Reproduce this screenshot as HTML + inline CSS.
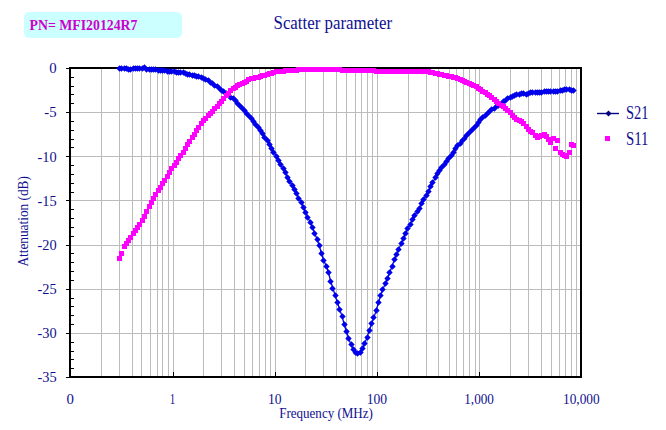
<!DOCTYPE html>
<html><head><meta charset="utf-8"><title>Scatter parameter</title>
<style>
html,body{margin:0;padding:0;background:#fff;}
body{width:666px;height:430px;overflow:hidden;}
svg{display:block;font-family:"Liberation Serif",serif;}
</style></head><body>
<svg width="666" height="430" viewBox="0 0 666 430">
<rect width="666" height="430" fill="#ffffff"/>
<g shape-rendering="crispEdges">
<path d="M101.5 69 V376 M119.5 69 V376 M132.5 69 V376 M141.5 69 V376 M150.5 69 V376 M157.5 69 V376 M162.5 69 V376 M168.5 69 V376 M173.5 69 V376 M203.5 69 V376 M221.5 69 V376 M234.5 69 V376 M244.5 69 V376 M252.5 69 V376 M259.5 69 V376 M265.5 69 V376 M270.5 69 V376 M275.5 69 V376 M305.5 69 V376 M323.5 69 V376 M336.5 69 V376 M346.5 69 V376 M355.5 69 V376 M361.5 69 V376 M367.5 69 V376 M372.5 69 V376 M377.5 69 V376 M408.5 69 V376 M426.5 69 V376 M438.5 69 V376 M449.5 69 V376 M456.5 69 V376 M463.5 69 V376 M469.5 69 V376 M475.5 69 V376 M479.5 69 V376 M510.5 69 V376 M528.5 69 V376 M541.5 69 V376 M551.5 69 V376 M559.5 69 V376 M565.5 69 V376 M571.5 69 V376 M576.5 69 V376 M71 112.5 H580 M71 156.5 H580 M71 200.5 H580 M71 245.5 H580 M71 289.5 H580 M71 333.5 H580" stroke="#bcbcbc" stroke-width="1" fill="none"/>
<path d="M66 68.5 H70 M70 77.5 H74 M70 86.5 H74 M70 94.5 H74 M70 103.5 H74 M66 112.5 H70 M70 121.5 H74 M70 130.5 H74 M70 139.5 H74 M70 147.5 H74 M66 156.5 H70 M70 165.5 H74 M70 174.5 H74 M70 183.5 H74 M70 192.5 H74 M66 200.5 H70 M70 209.5 H74 M70 218.5 H74 M70 227.5 H74 M70 236.5 H74 M66 245.5 H70 M70 253.5 H74 M70 262.5 H74 M70 271.5 H74 M70 280.5 H74 M66 289.5 H70 M70 298.5 H74 M70 306.5 H74 M70 315.5 H74 M70 324.5 H74 M66 333.5 H70 M70 342.5 H74 M70 351.5 H74 M70 359.5 H74 M70 368.5 H74 M66 377.5 H70 M173.5 372 V377 M275.5 372 V377 M377.5 372 V377 M479.5 372 V377" stroke="#000" stroke-width="1" fill="none"/>
<rect x="70" y="68" width="511" height="309" fill="none" stroke="#000" stroke-width="2"/>
<path d="M119.5 68.7 L121.8 68.9 L124 68.6 L126.3 68.8 L128.6 69.1 L130.9 69.1 L133.1 68.5 L135.4 68.6 L137.7 68.5 L139.9 68.9 L142.2 68.6 L144.5 67.3 L146.8 69.4 L149 69.3 L151.3 69.8 L153.6 70 L155.8 69.7 L158.1 70.3 L160.4 70.2 L162.6 70.5 L164.9 70.6 L167.2 71.1 L169.5 71.1 L171.7 71.1 L174 71.6 L176.3 72.1 L178.5 72 L180.8 72.3 L183.1 72.8 L185.4 73.6 L187.6 74.1 L189.9 74.4 L192.2 75.1 L194.4 75.7 L196.7 76 L199 76.6 L201.3 77.8 L203.5 78.7 L205.8 79.7 L208.1 80.9 L210.3 82.2 L212.6 83.6 L214.9 85.1 L217.2 86.8 L219.4 88.4 L221.7 90.1 L224 91.8 L226.2 93.6 L228.5 95.4 L230.8 97.1 L233.1 98.9 L235.3 100.9 L237.6 103.2 L239.9 105.6 L242.1 108.1 L244.4 110.6 L246.7 113.1 L248.9 115.6 L251.2 118.2 L253.5 121 L255.8 124 L258 127.2 L260.3 130.4 L262.6 133.7 L264.8 137.1 L267.1 140.6 L269.4 144.2 L271.7 148 L273.9 152.2 L276.2 156.4 L278.5 160.5 L280.7 164.6 L283 168.7 L285.3 172.9 L287.6 177 L289.8 181.2 L292.1 185.3 L294.4 189.4 L296.6 193.7 L298.9 198 L301.2 202.6 L303.5 207.4 L305.7 212.3 L308 217.4 L310.3 222.7 L312.5 227.6 L314.8 233.3 L317.1 239.4 L319.3 245.7 L321.6 253.7 L323.9 260.8 L326.2 266.1 L328.4 272 L330.7 281.5 L333 288.3 L335.2 295.9 L337.5 302.8 L339.8 309.8 L342.1 316.4 L344.3 324.7 L346.6 332 L348.9 338.9 L351.1 345 L353.4 349.7 L355.7 352.6 L358 353.6 L360.2 352.5 L362.5 348.6 L364.8 343.4 L367 337.6 L369.3 330.3 L371.6 323.8 L373.9 317.4 L376.1 310.9 L378.4 302.6 L380.7 295.3 L382.9 289.3 L385.2 283.7 L387.5 278.3 L389.7 272.7 L392 266.3 L394.3 259.9 L396.6 254.4 L398.8 249.1 L401.1 244 L403.4 238.5 L405.6 233.3 L407.9 228.1 L410.2 224.1 L412.5 219.2 L414.7 215.3 L417 211.9 L419.3 208.3 L421.5 203.6 L423.8 199.1 L426.1 195.2 L428.4 191.1 L430.6 186.7 L432.9 182.3 L435.2 177.9 L437.4 174 L439.7 170.5 L442 167.4 L444.3 164.5 L446.5 161.7 L448.8 158.9 L451.1 155.8 L453.3 152.3 L455.6 148.8 L457.9 146 L460.1 143.4 L462.4 141 L464.7 138.3 L467 135.5 L469.2 132.7 L471.5 130.4 L473.8 128.2 L476 125.7 L478.3 122.7 L480.6 120 L482.9 117.6 L485.1 115.4 L487.4 113.3 L489.7 111.5 L491.9 109.8 L494.2 108.3 L496.5 106.8 L498.8 105.2 L501 103.6 L503.3 101.8 L505.6 100.4 L507.8 99 L510.1 97.6 L512.4 96.3 L514.7 95.6 L516.9 95 L519.2 94.3 L521.5 93.9 L523.7 93.8 L526 94.1 L528.3 93.5 L530.6 92.9 L532.8 92.8 L535.1 92.8 L537.4 92.3 L539.6 92.2 L541.9 92.4 L544.2 91.7 L546.4 91.9 L548.7 91.6 L551 91.8 L553.3 91.6 L555.5 91.3 L557.8 91 L560.1 90.3 L562.3 90 L564.6 89.1 L566.9 89.4 L569.2 89.4 L571.4 90.1 L573.7 90.5" stroke="#0000ea" stroke-width="1.3" fill="none" shape-rendering="auto"/>
<path d="M119.5 65.3l3.2 3.2l-3.2 3.2l-3.2 -3.2zM121.5 65.3l3.2 3.2l-3.2 3.2l-3.2 -3.2zM124.5 65.3l3.2 3.2l-3.2 3.2l-3.2 -3.2zM126.5 65.3l3.2 3.2l-3.2 3.2l-3.2 -3.2zM128.5 66.3l3.2 3.2l-3.2 3.2l-3.2 -3.2zM130.5 66.3l3.2 3.2l-3.2 3.2l-3.2 -3.2zM133.5 65.3l3.2 3.2l-3.2 3.2l-3.2 -3.2zM135.5 65.3l3.2 3.2l-3.2 3.2l-3.2 -3.2zM137.5 65.3l3.2 3.2l-3.2 3.2l-3.2 -3.2zM139.5 65.3l3.2 3.2l-3.2 3.2l-3.2 -3.2zM142.5 65.3l3.2 3.2l-3.2 3.2l-3.2 -3.2zM144.5 64.3l3.2 3.2l-3.2 3.2l-3.2 -3.2zM146.5 66.3l3.2 3.2l-3.2 3.2l-3.2 -3.2zM149.5 66.3l3.2 3.2l-3.2 3.2l-3.2 -3.2zM151.5 66.3l3.2 3.2l-3.2 3.2l-3.2 -3.2zM153.5 66.3l3.2 3.2l-3.2 3.2l-3.2 -3.2zM155.5 66.3l3.2 3.2l-3.2 3.2l-3.2 -3.2zM158.5 67.3l3.2 3.2l-3.2 3.2l-3.2 -3.2zM160.5 67.3l3.2 3.2l-3.2 3.2l-3.2 -3.2zM162.5 67.3l3.2 3.2l-3.2 3.2l-3.2 -3.2zM164.5 67.3l3.2 3.2l-3.2 3.2l-3.2 -3.2zM167.5 68.3l3.2 3.2l-3.2 3.2l-3.2 -3.2zM169.5 68.3l3.2 3.2l-3.2 3.2l-3.2 -3.2zM171.5 68.3l3.2 3.2l-3.2 3.2l-3.2 -3.2zM174.5 68.3l3.2 3.2l-3.2 3.2l-3.2 -3.2zM176.5 69.3l3.2 3.2l-3.2 3.2l-3.2 -3.2zM178.5 69.3l3.2 3.2l-3.2 3.2l-3.2 -3.2zM180.5 69.3l3.2 3.2l-3.2 3.2l-3.2 -3.2zM183.5 69.3l3.2 3.2l-3.2 3.2l-3.2 -3.2zM185.5 70.3l3.2 3.2l-3.2 3.2l-3.2 -3.2zM187.5 71.3l3.2 3.2l-3.2 3.2l-3.2 -3.2zM189.5 71.3l3.2 3.2l-3.2 3.2l-3.2 -3.2zM192.5 72.3l3.2 3.2l-3.2 3.2l-3.2 -3.2zM194.5 72.3l3.2 3.2l-3.2 3.2l-3.2 -3.2zM196.5 73.3l3.2 3.2l-3.2 3.2l-3.2 -3.2zM198.5 73.3l3.2 3.2l-3.2 3.2l-3.2 -3.2zM201.5 74.3l3.2 3.2l-3.2 3.2l-3.2 -3.2zM203.5 75.3l3.2 3.2l-3.2 3.2l-3.2 -3.2zM205.5 76.3l3.2 3.2l-3.2 3.2l-3.2 -3.2zM208.5 77.3l3.2 3.2l-3.2 3.2l-3.2 -3.2zM210.5 79.3l3.2 3.2l-3.2 3.2l-3.2 -3.2zM212.5 80.3l3.2 3.2l-3.2 3.2l-3.2 -3.2zM214.5 82.3l3.2 3.2l-3.2 3.2l-3.2 -3.2zM217.5 83.3l3.2 3.2l-3.2 3.2l-3.2 -3.2zM219.5 85.3l3.2 3.2l-3.2 3.2l-3.2 -3.2zM221.5 87.3l3.2 3.2l-3.2 3.2l-3.2 -3.2zM223.5 88.3l3.2 3.2l-3.2 3.2l-3.2 -3.2zM226.5 90.3l3.2 3.2l-3.2 3.2l-3.2 -3.2zM228.5 92.3l3.2 3.2l-3.2 3.2l-3.2 -3.2zM230.5 94.3l3.2 3.2l-3.2 3.2l-3.2 -3.2zM233.5 95.3l3.2 3.2l-3.2 3.2l-3.2 -3.2zM235.5 97.3l3.2 3.2l-3.2 3.2l-3.2 -3.2zM237.5 100.3l3.2 3.2l-3.2 3.2l-3.2 -3.2zM239.5 102.3l3.2 3.2l-3.2 3.2l-3.2 -3.2zM242.5 105.3l3.2 3.2l-3.2 3.2l-3.2 -3.2zM244.5 107.3l3.2 3.2l-3.2 3.2l-3.2 -3.2zM246.5 110.3l3.2 3.2l-3.2 3.2l-3.2 -3.2zM248.5 112.3l3.2 3.2l-3.2 3.2l-3.2 -3.2zM251.5 115.3l3.2 3.2l-3.2 3.2l-3.2 -3.2zM253.5 118.3l3.2 3.2l-3.2 3.2l-3.2 -3.2zM255.5 121.3l3.2 3.2l-3.2 3.2l-3.2 -3.2zM258.5 124.3l3.2 3.2l-3.2 3.2l-3.2 -3.2zM260.5 127.3l3.2 3.2l-3.2 3.2l-3.2 -3.2zM262.5 130.3l3.2 3.2l-3.2 3.2l-3.2 -3.2zM264.5 134.3l3.2 3.2l-3.2 3.2l-3.2 -3.2zM267.5 137.3l3.2 3.2l-3.2 3.2l-3.2 -3.2zM269.5 141.3l3.2 3.2l-3.2 3.2l-3.2 -3.2zM271.5 145.3l3.2 3.2l-3.2 3.2l-3.2 -3.2zM273.5 149.3l3.2 3.2l-3.2 3.2l-3.2 -3.2zM276.5 153.3l3.2 3.2l-3.2 3.2l-3.2 -3.2zM278.5 157.3l3.2 3.2l-3.2 3.2l-3.2 -3.2zM280.5 161.3l3.2 3.2l-3.2 3.2l-3.2 -3.2zM283.5 165.3l3.2 3.2l-3.2 3.2l-3.2 -3.2zM285.5 169.3l3.2 3.2l-3.2 3.2l-3.2 -3.2zM287.5 174.3l3.2 3.2l-3.2 3.2l-3.2 -3.2zM289.5 178.3l3.2 3.2l-3.2 3.2l-3.2 -3.2zM292.5 182.3l3.2 3.2l-3.2 3.2l-3.2 -3.2zM294.5 186.3l3.2 3.2l-3.2 3.2l-3.2 -3.2zM296.5 190.3l3.2 3.2l-3.2 3.2l-3.2 -3.2zM298.5 195.3l3.2 3.2l-3.2 3.2l-3.2 -3.2zM301.5 199.3l3.2 3.2l-3.2 3.2l-3.2 -3.2zM303.5 204.3l3.2 3.2l-3.2 3.2l-3.2 -3.2zM305.5 209.3l3.2 3.2l-3.2 3.2l-3.2 -3.2zM307.5 214.3l3.2 3.2l-3.2 3.2l-3.2 -3.2zM310.5 219.3l3.2 3.2l-3.2 3.2l-3.2 -3.2zM312.5 224.3l3.2 3.2l-3.2 3.2l-3.2 -3.2zM314.5 230.3l3.2 3.2l-3.2 3.2l-3.2 -3.2zM317.5 236.3l3.2 3.2l-3.2 3.2l-3.2 -3.2zM319.5 242.3l3.2 3.2l-3.2 3.2l-3.2 -3.2zM321.5 250.3l3.2 3.2l-3.2 3.2l-3.2 -3.2zM323.5 257.3l3.2 3.2l-3.2 3.2l-3.2 -3.2zM326.5 263.3l3.2 3.2l-3.2 3.2l-3.2 -3.2zM328.5 269.3l3.2 3.2l-3.2 3.2l-3.2 -3.2zM330.5 278.3l3.2 3.2l-3.2 3.2l-3.2 -3.2zM332.5 285.3l3.2 3.2l-3.2 3.2l-3.2 -3.2zM335.5 292.3l3.2 3.2l-3.2 3.2l-3.2 -3.2zM337.5 299.3l3.2 3.2l-3.2 3.2l-3.2 -3.2zM339.5 306.3l3.2 3.2l-3.2 3.2l-3.2 -3.2zM342.5 313.3l3.2 3.2l-3.2 3.2l-3.2 -3.2zM344.5 321.3l3.2 3.2l-3.2 3.2l-3.2 -3.2zM346.5 328.3l3.2 3.2l-3.2 3.2l-3.2 -3.2zM348.5 335.3l3.2 3.2l-3.2 3.2l-3.2 -3.2zM351.5 341.3l3.2 3.2l-3.2 3.2l-3.2 -3.2zM353.5 346.3l3.2 3.2l-3.2 3.2l-3.2 -3.2zM355.5 349.3l3.2 3.2l-3.2 3.2l-3.2 -3.2zM357.5 350.3l3.2 3.2l-3.2 3.2l-3.2 -3.2zM360.5 349.3l3.2 3.2l-3.2 3.2l-3.2 -3.2zM362.5 345.3l3.2 3.2l-3.2 3.2l-3.2 -3.2zM364.5 340.3l3.2 3.2l-3.2 3.2l-3.2 -3.2zM367.5 334.3l3.2 3.2l-3.2 3.2l-3.2 -3.2zM369.5 327.3l3.2 3.2l-3.2 3.2l-3.2 -3.2zM371.5 320.3l3.2 3.2l-3.2 3.2l-3.2 -3.2zM373.5 314.3l3.2 3.2l-3.2 3.2l-3.2 -3.2zM376.5 307.3l3.2 3.2l-3.2 3.2l-3.2 -3.2zM378.5 299.3l3.2 3.2l-3.2 3.2l-3.2 -3.2zM380.5 292.3l3.2 3.2l-3.2 3.2l-3.2 -3.2zM382.5 286.3l3.2 3.2l-3.2 3.2l-3.2 -3.2zM385.5 280.3l3.2 3.2l-3.2 3.2l-3.2 -3.2zM387.5 275.3l3.2 3.2l-3.2 3.2l-3.2 -3.2zM389.5 269.3l3.2 3.2l-3.2 3.2l-3.2 -3.2zM392.5 263.3l3.2 3.2l-3.2 3.2l-3.2 -3.2zM394.5 256.3l3.2 3.2l-3.2 3.2l-3.2 -3.2zM396.5 251.3l3.2 3.2l-3.2 3.2l-3.2 -3.2zM398.5 246.3l3.2 3.2l-3.2 3.2l-3.2 -3.2zM401.5 240.3l3.2 3.2l-3.2 3.2l-3.2 -3.2zM403.5 235.3l3.2 3.2l-3.2 3.2l-3.2 -3.2zM405.5 230.3l3.2 3.2l-3.2 3.2l-3.2 -3.2zM407.5 225.3l3.2 3.2l-3.2 3.2l-3.2 -3.2zM410.5 221.3l3.2 3.2l-3.2 3.2l-3.2 -3.2zM412.5 216.3l3.2 3.2l-3.2 3.2l-3.2 -3.2zM414.5 212.3l3.2 3.2l-3.2 3.2l-3.2 -3.2zM417.5 208.3l3.2 3.2l-3.2 3.2l-3.2 -3.2zM419.5 205.3l3.2 3.2l-3.2 3.2l-3.2 -3.2zM421.5 200.3l3.2 3.2l-3.2 3.2l-3.2 -3.2zM423.5 196.3l3.2 3.2l-3.2 3.2l-3.2 -3.2zM426.5 192.3l3.2 3.2l-3.2 3.2l-3.2 -3.2zM428.5 188.3l3.2 3.2l-3.2 3.2l-3.2 -3.2zM430.5 183.3l3.2 3.2l-3.2 3.2l-3.2 -3.2zM432.5 179.3l3.2 3.2l-3.2 3.2l-3.2 -3.2zM435.5 174.3l3.2 3.2l-3.2 3.2l-3.2 -3.2zM437.5 170.3l3.2 3.2l-3.2 3.2l-3.2 -3.2zM439.5 167.3l3.2 3.2l-3.2 3.2l-3.2 -3.2zM441.5 164.3l3.2 3.2l-3.2 3.2l-3.2 -3.2zM444.5 161.3l3.2 3.2l-3.2 3.2l-3.2 -3.2zM446.5 158.3l3.2 3.2l-3.2 3.2l-3.2 -3.2zM448.5 155.3l3.2 3.2l-3.2 3.2l-3.2 -3.2zM451.5 152.3l3.2 3.2l-3.2 3.2l-3.2 -3.2zM453.5 149.3l3.2 3.2l-3.2 3.2l-3.2 -3.2zM455.5 145.3l3.2 3.2l-3.2 3.2l-3.2 -3.2zM457.5 142.3l3.2 3.2l-3.2 3.2l-3.2 -3.2zM460.5 140.3l3.2 3.2l-3.2 3.2l-3.2 -3.2zM462.5 137.3l3.2 3.2l-3.2 3.2l-3.2 -3.2zM464.5 135.3l3.2 3.2l-3.2 3.2l-3.2 -3.2zM466.5 132.3l3.2 3.2l-3.2 3.2l-3.2 -3.2zM469.5 129.3l3.2 3.2l-3.2 3.2l-3.2 -3.2zM471.5 127.3l3.2 3.2l-3.2 3.2l-3.2 -3.2zM473.5 125.3l3.2 3.2l-3.2 3.2l-3.2 -3.2zM476.5 122.3l3.2 3.2l-3.2 3.2l-3.2 -3.2zM478.5 119.3l3.2 3.2l-3.2 3.2l-3.2 -3.2zM480.5 116.3l3.2 3.2l-3.2 3.2l-3.2 -3.2zM482.5 114.3l3.2 3.2l-3.2 3.2l-3.2 -3.2zM485.5 112.3l3.2 3.2l-3.2 3.2l-3.2 -3.2zM487.5 110.3l3.2 3.2l-3.2 3.2l-3.2 -3.2zM489.5 108.3l3.2 3.2l-3.2 3.2l-3.2 -3.2zM491.5 106.3l3.2 3.2l-3.2 3.2l-3.2 -3.2zM494.5 105.3l3.2 3.2l-3.2 3.2l-3.2 -3.2zM496.5 103.3l3.2 3.2l-3.2 3.2l-3.2 -3.2zM498.5 102.3l3.2 3.2l-3.2 3.2l-3.2 -3.2zM501.5 100.3l3.2 3.2l-3.2 3.2l-3.2 -3.2zM503.5 98.3l3.2 3.2l-3.2 3.2l-3.2 -3.2zM505.5 97.3l3.2 3.2l-3.2 3.2l-3.2 -3.2zM507.5 95.3l3.2 3.2l-3.2 3.2l-3.2 -3.2zM510.5 94.3l3.2 3.2l-3.2 3.2l-3.2 -3.2zM512.5 93.3l3.2 3.2l-3.2 3.2l-3.2 -3.2zM514.5 92.3l3.2 3.2l-3.2 3.2l-3.2 -3.2zM516.5 91.3l3.2 3.2l-3.2 3.2l-3.2 -3.2zM519.5 91.3l3.2 3.2l-3.2 3.2l-3.2 -3.2zM521.5 90.3l3.2 3.2l-3.2 3.2l-3.2 -3.2zM523.5 90.3l3.2 3.2l-3.2 3.2l-3.2 -3.2zM526.5 91.3l3.2 3.2l-3.2 3.2l-3.2 -3.2zM528.5 90.3l3.2 3.2l-3.2 3.2l-3.2 -3.2zM530.5 89.3l3.2 3.2l-3.2 3.2l-3.2 -3.2zM532.5 89.3l3.2 3.2l-3.2 3.2l-3.2 -3.2zM535.5 89.3l3.2 3.2l-3.2 3.2l-3.2 -3.2zM537.5 89.3l3.2 3.2l-3.2 3.2l-3.2 -3.2zM539.5 89.3l3.2 3.2l-3.2 3.2l-3.2 -3.2zM541.5 89.3l3.2 3.2l-3.2 3.2l-3.2 -3.2zM544.5 88.3l3.2 3.2l-3.2 3.2l-3.2 -3.2zM546.5 88.3l3.2 3.2l-3.2 3.2l-3.2 -3.2zM548.5 88.3l3.2 3.2l-3.2 3.2l-3.2 -3.2zM550.5 88.3l3.2 3.2l-3.2 3.2l-3.2 -3.2zM553.5 88.3l3.2 3.2l-3.2 3.2l-3.2 -3.2zM555.5 88.3l3.2 3.2l-3.2 3.2l-3.2 -3.2zM557.5 88.3l3.2 3.2l-3.2 3.2l-3.2 -3.2zM560.5 87.3l3.2 3.2l-3.2 3.2l-3.2 -3.2zM562.5 87.3l3.2 3.2l-3.2 3.2l-3.2 -3.2zM564.5 86.3l3.2 3.2l-3.2 3.2l-3.2 -3.2zM566.5 86.3l3.2 3.2l-3.2 3.2l-3.2 -3.2zM569.5 86.3l3.2 3.2l-3.2 3.2l-3.2 -3.2zM571.5 87.3l3.2 3.2l-3.2 3.2l-3.2 -3.2zM573.5 87.3l3.2 3.2l-3.2 3.2l-3.2 -3.2z" fill="#0000ea" shape-rendering="geometricPrecision"/>
<path d="M117 256h5v5h-5zM119 251h5v5h-5zM122 244h5v5h-5zM124 241h5v5h-5zM126 238h5v5h-5zM128 235h5v5h-5zM131 231h5v5h-5zM133 228h5v5h-5zM135 225h5v5h-5zM137 222h5v5h-5zM140 218h5v5h-5zM142 214h5v5h-5zM144 209h5v5h-5zM147 204h5v5h-5zM149 200h5v5h-5zM151 196h5v5h-5zM153 192h5v5h-5zM156 188h5v5h-5zM158 185h5v5h-5zM160 181h5v5h-5zM162 178h5v5h-5zM165 174h5v5h-5zM167 170h5v5h-5zM169 166h5v5h-5zM172 163h5v5h-5zM174 160h5v5h-5zM176 156h5v5h-5zM178 153h5v5h-5zM181 150h5v5h-5zM183 146h5v5h-5zM185 142h5v5h-5zM187 139h5v5h-5zM190 135h5v5h-5zM192 132h5v5h-5zM194 128h5v5h-5zM196 125h5v5h-5zM199 121h5v5h-5zM201 118h5v5h-5zM203 116h5v5h-5zM206 113h5v5h-5zM208 111h5v5h-5zM210 109h5v5h-5zM212 106h5v5h-5zM215 104h5v5h-5zM217 101h5v5h-5zM219 99h5v5h-5zM221 96h5v5h-5zM224 93h5v5h-5zM226 91h5v5h-5zM228 88h5v5h-5zM231 86h5v5h-5zM233 85h5v5h-5zM235 83h5v5h-5zM237 82h5v5h-5zM240 81h5v5h-5zM242 80h5v5h-5zM244 79h5v5h-5zM246 77h5v5h-5zM249 76h5v5h-5zM251 76h5v5h-5zM253 75h5v5h-5zM256 75h5v5h-5zM258 74h5v5h-5zM260 73h5v5h-5zM262 73h5v5h-5zM265 72h5v5h-5zM267 71h5v5h-5zM269 71h5v5h-5zM271 70h5v5h-5zM274 69h5v5h-5zM276 69h5v5h-5zM278 69h5v5h-5zM281 69h5v5h-5zM283 68h5v5h-5zM285 68h5v5h-5zM287 68h5v5h-5zM290 68h5v5h-5zM292 68h5v5h-5zM294 68h5v5h-5zM296 67h5v5h-5zM299 67h5v5h-5zM301 67h5v5h-5zM303 67h5v5h-5zM305 67h5v5h-5zM308 67h5v5h-5zM310 67h5v5h-5zM312 67h5v5h-5zM315 67h5v5h-5zM317 67h5v5h-5zM319 67h5v5h-5zM321 67h5v5h-5zM324 67h5v5h-5zM326 67h5v5h-5zM328 67h5v5h-5zM330 67h5v5h-5zM333 67h5v5h-5zM335 67h5v5h-5zM337 67h5v5h-5zM340 68h5v5h-5zM342 68h5v5h-5zM344 68h5v5h-5zM346 68h5v5h-5zM349 68h5v5h-5zM351 68h5v5h-5zM353 68h5v5h-5zM355 68h5v5h-5zM358 68h5v5h-5zM360 68h5v5h-5zM362 68h5v5h-5zM365 68h5v5h-5zM367 68h5v5h-5zM369 68h5v5h-5zM371 68h5v5h-5zM374 69h5v5h-5zM376 69h5v5h-5zM378 69h5v5h-5zM380 69h5v5h-5zM383 69h5v5h-5zM385 69h5v5h-5zM387 69h5v5h-5zM390 69h5v5h-5zM392 69h5v5h-5zM394 69h5v5h-5zM396 69h5v5h-5zM399 69h5v5h-5zM401 69h5v5h-5zM403 69h5v5h-5zM405 69h5v5h-5zM408 69h5v5h-5zM410 69h5v5h-5zM412 69h5v5h-5zM415 69h5v5h-5zM417 69h5v5h-5zM419 69h5v5h-5zM421 69h5v5h-5zM424 69h5v5h-5zM426 69h5v5h-5zM428 70h5v5h-5zM430 70h5v5h-5zM433 71h5v5h-5zM435 71h5v5h-5zM437 72h5v5h-5zM439 72h5v5h-5zM442 73h5v5h-5zM444 73h5v5h-5zM446 74h5v5h-5zM449 74h5v5h-5zM451 75h5v5h-5zM453 75h5v5h-5zM455 76h5v5h-5zM458 77h5v5h-5zM460 78h5v5h-5zM462 79h5v5h-5zM464 80h5v5h-5zM467 81h5v5h-5zM469 82h5v5h-5zM471 83h5v5h-5zM474 84h5v5h-5zM476 86h5v5h-5zM478 87h5v5h-5zM480 89h5v5h-5zM483 90h5v5h-5zM485 92h5v5h-5zM487 93h5v5h-5zM489 95h5v5h-5zM492 97h5v5h-5zM494 99h5v5h-5zM496 101h5v5h-5zM499 103h5v5h-5zM501 104h5v5h-5zM503 106h5v5h-5zM505 108h5v5h-5zM508 110h5v5h-5zM510 113h5v5h-5zM512 115h5v5h-5zM514 117h5v5h-5zM517 118h5v5h-5zM519 119h5v5h-5zM521 121h5v5h-5zM524 124h5v5h-5zM526 127h5v5h-5zM528 129h5v5h-5zM530 130h5v5h-5zM533 133h5v5h-5zM535 135h5v5h-5zM537 134h5v5h-5zM539 133h5v5h-5zM542 132h5v5h-5zM544 134h5v5h-5zM546 137h5v5h-5zM548 140h5v5h-5zM551 136h5v5h-5zM553 146h5v5h-5zM555 138h5v5h-5zM558 150h5v5h-5zM560 152h5v5h-5zM562 153h5v5h-5zM564 154h5v5h-5zM567 150h5v5h-5zM569 142h5v5h-5zM571 143h5v5h-5z" fill="#ff00ff"/>
</g>
<rect x="24" y="12" width="158" height="26" rx="5" ry="5" fill="#ccffff"/>
<text x="29.5" y="30" font-size="14.5" text-anchor="start" fill="#cc00cc" font-weight="bold" textLength="108" lengthAdjust="spacingAndGlyphs">PN= MFI20124R7</text>
<text x="273.5" y="28.6" font-size="18.5" text-anchor="start" fill="#101090" font-weight="normal" textLength="118.5" lengthAdjust="spacingAndGlyphs">Scatter parameter</text>
<text x="56.6" y="73.3" font-size="14.5" text-anchor="end" fill="#101090" font-weight="normal" textLength="7.4" lengthAdjust="spacingAndGlyphs">0</text>
<text x="56.6" y="117.4" font-size="14.5" text-anchor="end" fill="#101090" font-weight="normal" textLength="12.3" lengthAdjust="spacingAndGlyphs">-5</text>
<text x="56.6" y="161.6" font-size="14.5" text-anchor="end" fill="#101090" font-weight="normal" textLength="19.2" lengthAdjust="spacingAndGlyphs">-10</text>
<text x="56.6" y="205.7" font-size="14.5" text-anchor="end" fill="#101090" font-weight="normal" textLength="19.2" lengthAdjust="spacingAndGlyphs">-15</text>
<text x="56.6" y="249.9" font-size="14.5" text-anchor="end" fill="#101090" font-weight="normal" textLength="19.2" lengthAdjust="spacingAndGlyphs">-20</text>
<text x="56.6" y="294.0" font-size="14.5" text-anchor="end" fill="#101090" font-weight="normal" textLength="19.2" lengthAdjust="spacingAndGlyphs">-25</text>
<text x="56.6" y="338.2" font-size="14.5" text-anchor="end" fill="#101090" font-weight="normal" textLength="19.2" lengthAdjust="spacingAndGlyphs">-30</text>
<text x="56.6" y="382.3" font-size="14.5" text-anchor="end" fill="#101090" font-weight="normal" textLength="19.2" lengthAdjust="spacingAndGlyphs">-35</text>
<text x="70.3" y="403.7" font-size="14.5" text-anchor="middle" fill="#101090" font-weight="normal" textLength="7.4" lengthAdjust="spacingAndGlyphs">0</text>
<text x="172.5" y="403.7" font-size="14.5" text-anchor="middle" fill="#101090" font-weight="normal" textLength="5.5" lengthAdjust="spacingAndGlyphs">1</text>
<text x="274.7" y="403.7" font-size="14.5" text-anchor="middle" fill="#101090" font-weight="normal" textLength="13.6" lengthAdjust="spacingAndGlyphs">10</text>
<text x="376.9" y="403.7" font-size="14.5" text-anchor="middle" fill="#101090" font-weight="normal" textLength="20.4" lengthAdjust="spacingAndGlyphs">100</text>
<text x="479.1" y="403.7" font-size="14.5" text-anchor="middle" fill="#101090" font-weight="normal" textLength="29.6" lengthAdjust="spacingAndGlyphs">1,000</text>
<text x="581.3" y="403.7" font-size="14.5" text-anchor="middle" fill="#101090" font-weight="normal" textLength="36.6" lengthAdjust="spacingAndGlyphs">10,000</text>
<text x="279.2" y="418.4" font-size="14" text-anchor="start" fill="#101090" font-weight="normal" textLength="93.7" lengthAdjust="spacingAndGlyphs">Frequency (MHz)</text>
<g transform="translate(27.6,266.6) rotate(-90)"><text x="0" y="0" font-size="14" text-anchor="start" fill="#101090" font-weight="normal" textLength="90.5" lengthAdjust="spacingAndGlyphs">Attenuation (dB)</text></g>
<path d="M597 113.5H619" stroke="#000080" stroke-width="1.4"/>
<path d="M608.5 110.5l3 3l-3 3l-3 -3z" fill="#000080"/>
<rect x="605" y="136" width="5" height="5" fill="#ff00ff"/>
<text x="626" y="119" font-size="19" text-anchor="start" fill="#101090" font-weight="normal" textLength="22.5" lengthAdjust="spacingAndGlyphs">S21</text>
<text x="626" y="144.6" font-size="19" text-anchor="start" fill="#101090" font-weight="normal" textLength="22.5" lengthAdjust="spacingAndGlyphs">S11</text>
</svg>
</body></html>
